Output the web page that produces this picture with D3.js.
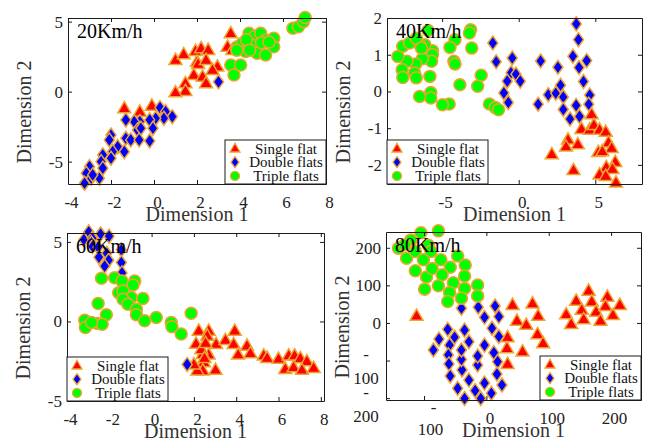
<!DOCTYPE html>
<meta charset="utf-8">
<style>
body { margin: 0; background: #fff; }
svg { display: block; font-family: "Liberation Serif", "Times New Roman", serif; }
.axis .domain, .axis line { stroke: #1a1a1a; stroke-width: 1; }
.axis text { font-family: "Liberation Serif", serif; font-size: 17px; fill: #222; }
.atitle { font-size: 20px; fill: #333; }
.ptitle { font-size: 20px; fill: #000; }
.legend text { font-size: 15px; fill: #111; }
</style>
<svg width="654" height="447"></svg>
<script src="https://d3js.org/d3.v7.min.js"></script>
<script>
// ---- data ----
var seriesNames = ["Single flat", "Double flats", "Triple flats"];
var panelTitles = ["20Km/h", "40Km/h", "60Km/h", "80Km/h"];

var single20 = [[3.57,4.17],[3.42,3.21],[3.65,2.98],[1.0,2.26],[1.38,2.67],[1.93,2.9],[2.19,3.1],[2.52,2.98],[2.0,2.14],[2.05,1.98],[2.42,2.26],[2.95,1.79],[2.72,1.55],[1.85,1.19],[2.26,1.07],[2.42,0.6],[1.46,0.6],[1.46,0.05],[1.0,-0.05],[-1.38,-1.19],[-0.66,-1.43],[-0.1,-1.0]];
var double20 = [[3.0,0.7],[0.28,-1.14],[0.54,-1.43],[0.85,-1.79],[0.46,-1.9],[0.08,-1.9],[-0.2,-2.02],[-0.05,-2.62],[-0.66,-2.14],[-0.92,-2.14],[-1.31,-2.02],[-0.77,-2.74],[-0.61,-2.62],[-1.31,-3.33],[-1.08,-3.45],[-0.69,-3.45],[-0.2,-3.52],[-2.0,-3.1],[-2.08,-3.45],[-1.69,-3.93],[-1.92,-4.29],[-1.38,-4.29],[-2.38,-4.52],[-2.46,-5.0],[-2.0,-4.76],[-2.38,-5.47],[-3.0,-5.36],[-3.15,-5.83],[-2.92,-6.19],[-2.54,-6.19],[-3.23,-6.55],[-2.85,-5.95]];
var triple20 = [[3.88,3.21],[4.11,3.45],[4.42,4.17],[4.68,3.93],[4.96,4.17],[5.19,3.69],[5.57,3.81],[5.57,3.21],[4.88,3.21],[4.57,3.33],[4.26,2.86],[4.8,2.74],[5.19,2.62],[3.57,1.9],[4.03,1.9],[3.72,1.19],[6.46,4.53],[6.72,4.64],[6.95,5.0],[7.03,5.29],[4.3,3.7],[5.0,3.5],[3.85,2.95],[4.45,2.95],[5.35,3.55]];

var single40 = [[4.76,-0.62],[4.1,-1.02],[4.63,-1.04],[4.91,-0.91],[5.28,-1.04],[5.68,-1.1],[5.86,-1.39],[6.07,-1.54],[5.2,-1.65],[5.46,-1.63],[3.22,-1.31],[3.09,-1.5],[3.86,-1.44],[2.16,-1.71],[3.58,-2.14],[6.3,-1.92],[5.72,-2.06],[6.12,-2.11],[5.28,-2.26],[5.68,-2.3],[6.35,-2.48]];
var double40 = [[-1.69,1.32],[-1.47,0.81],[-0.42,0.91],[-0.5,0.51],[-0.18,0.47],[0.1,0.28],[-0.75,0.28],[-0.97,-0.04],[-0.68,-0.3],[1.27,-0.35],[1.43,0.83],[2.56,0.66],[2.73,0.17],[1.93,-0.09],[2.42,-0.05],[2.91,-0.15],[2.91,-0.49],[3.35,-0.75],[3.54,0.96],[3.76,1.84],[3.9,1.41],[3.94,0.65],[4.23,0.27],[4.44,0.84],[3.75,-0.38],[3.97,-0.68],[4.64,-0.1],[4.57,-0.35]];
var triple40 = [[-3.14,1.68],[-3.22,1.59],[-3.07,1.18],[-4.16,1.41],[-4.49,1.2],[-4.23,0.82],[-4.16,0.75],[-2.45,0.44],[-2.68,0.14],[-3.84,0.18],[-4.54,-0.34],[-4.98,-0.36],[-1.91,-0.34],[-1.53,-0.44],[-1.32,-0.5],[-5.74,-0.03],[-5.74,-0.18],[-6.47,-0.14],[-5.8,0.41],[-5.63,1.11],[-5.63,1.0],[-5.69,0.82],[-6.13,1.27],[-6.29,0.89],[-6.47,1.27],[-6.73,0.75],[-6.8,0.5],[-6.69,0.37],[-7.3,0.82],[-7.61,0.59],[-7.57,0.38],[-7.89,0.95],[-7.57,1.23],[-7.13,1.32],[-6.69,1.45],[-6.35,1.18],[-5.92,1.66]];

var single60 = [[2.23,-0.58],[2.7,-0.58],[2.63,-0.9],[3.05,-1.42],[3.49,-1.17],[3.93,-0.58],[3.88,-1.42],[4.51,-1.52],[4.67,-2.0],[4.09,-2.08],[2.7,-2.08],[2.42,-2.04],[2.47,-2.56],[2.42,-3.08],[3.02,-3.04],[2.16,-3.08],[5.3,-2.14],[5.46,-2.29],[6.0,-2.35],[6.48,-2.14],[6.76,-2.14],[7.03,-2.31],[7.34,-2.5],[6.32,-2.98],[6.71,-2.88],[7.11,-3.04],[7.66,-2.92],[2.1,-1.4],[2.35,-1.75],[2.55,-1.35],[2.0,-2.7],[2.5,-2.3]];
var double60 = [[-2.97,5.63],[-2.41,5.5],[-2.01,5.36],[-3.2,5.14],[-2.8,5.23],[-2.84,4.94],[-2.8,4.71],[-2.53,4.67],[-2.49,4.04],[-2.12,4.29],[-2.03,3.85],[-2.22,3.48],[-1.43,4.5],[-1.43,3.7],[-1.4,3.05],[1.68,-2.7]];
var triple60 = [[-2.37,2.71],[-1.75,2.75],[-1.4,2.54],[-0.8,2.54],[-0.88,2.29],[-1.56,1.81],[-1.35,1.92],[-0.96,1.5],[-1.35,1.39],[-1.12,1.08],[-0.41,1.44],[-0.72,0.77],[-0.72,0.42],[-0.33,0.04],[0.22,0.25],[0.93,-0.06],[0.96,-0.33],[1.4,-0.79],[1.87,0.52],[-2.14,0.42],[-2.53,1.13],[-2.56,-0.13],[-2.34,-0.17],[-3.16,0.08],[-3.13,-0.38],[-2.84,-0.06]];

var single80 = [[-112,19],[34,-38],[33,-67],[34,-109],[42,48],[49,6],[64,-5],[58,-76],[74,52],[83,19],[82,-30],[91,-54],[128,23],[136,-3],[144,59],[153,35],[156,10],[164,86],[169,57],[176,30],[183,6],[194,70],[191,45],[203,21],[214,48]];
var double80 = [[-40,39],[-13,42],[-3,15],[14,45],[20,17],[9,-14],[20,-36],[-3,-59],[12,-79],[18,-103],[17,-136],[25,-165],[8,-187],[-9,-201],[-14,-112],[-14,-88],[-3,-160],[-18,-180],[-35,-201],[-46,-174],[-28,-152],[-39,-125],[-40,-97],[-40,-72],[-28,-50],[-35,-19],[-51,-38],[-59,-59],[-61,-85],[-60,-109],[-58,-141],[-62,-17],[-76,-43],[-85,-72]];
var triple80 = [[-105,240],[-77,245],[-121,221],[-141,199],[-128,172],[-114,190],[-93,207],[-89,190],[-101,168],[-73,168],[-58,148],[-46,178],[-34,154],[-114,139],[-96,122],[-87,145],[-71,128],[-53,107],[-35,125],[-99,90],[-77,99],[-59,81],[-62,57],[-35,92],[-40,66],[-14,101],[-14,72],[-131,208]];

var xTicksA = [-4, -2, 0, 2, 4, 6, 8];
var yTicksA = [-5, 0, 5];
var xTicks40 = [-5, 0, 5];
var yTicks40 = [-2, -1, 0, 1, 2];
var xTicks80 = [-100, 0, 100, 200];
var yTicks80 = [-200, -100, 0, 100, 200];

// ---- layout ----
var EDGE = "#eda530";
var fills = ["#ff0000", "#0000ff", "#00ff00"];

var panels = [
  {title: panelTitles[0], l: 68, r: 326, t: 18, b: 184, xd: [-4, 8], yd: [-6.6, 5.26], xt: xTicksA, yt: yTicksA, legend: "right", data: [single20, double20, triple20]},
  {title: panelTitles[1], l: 387, r: 642, t: 18, b: 184, xd: [-8.6, 8.05], yd: [-2.52, 2.0], xt: xTicks40, yt: yTicks40, legend: "left", data: [single40, double40, triple40]},
  {title: panelTitles[2], l: 67, r: 324, t: 233, b: 401, xd: [-4, 8.15], yd: [-5, 5.56], xt: xTicksA, yt: yTicksA, legend: "left", data: [single60, double60, triple60]},
  {title: panelTitles[3], l: 386, r: 641, t: 232, b: 400, xd: [-161, 248], yd: [-205, 242], xt: xTicks80, yt: yTicks80, legend: "right", split: true, data: [single80, double80, triple80]}
];

// custom marker shapes (size = width in px)
var triangle = { draw: function(ctx, s) {
  var h = s * 0.87;
  ctx.moveTo(0, -h * 0.6); ctx.lineTo(s / 2, h * 0.4); ctx.lineTo(-s / 2, h * 0.4); ctx.closePath();
}};
var diamond = { draw: function(ctx, s) {
  var w = s * 0.36, h = s * 0.5;
  ctx.moveTo(0, -h); ctx.lineTo(w, 0); ctx.lineTo(0, h); ctx.lineTo(-w, 0); ctx.closePath();
}};
var disc = { draw: function(ctx, s) {
  ctx.moveTo(s / 2, 0); ctx.arc(0, 0, s / 2, 0, 2 * Math.PI);
}};
var shapes = [triangle, diamond, disc];
var bigSize = [13, 14, 12];
var smallSize = [10, 11, 9];

// plain ASCII hyphen for negatives, like the original
var fmt = function(d) { return String(d); };

var svg = d3.select("svg");
svg.append("rect").attr("width", 654).attr("height", 447).attr("fill", "#fff");

panels.forEach(function(p) {
  var x = d3.scaleLinear().domain(p.xd).range([p.l, p.r]);
  var y = d3.scaleLinear().domain(p.yd).range([p.b, p.t]);
  var g = svg.append("g");

  // markers: single, double, triple
  p.data.forEach(function(pts, i) {
    var sym = d3.symbol().type(shapes[i]).size(bigSize[i]);
    g.append("g").selectAll("path")
      .data(pts)
      .enter().append("path")
      .attr("d", sym)
      .attr("transform", function(d) { return "translate(" + x(d[0]) + "," + y(d[1]) + ")"; })
      .attr("fill", fills[i])
      .attr("stroke", EDGE)
      .attr("stroke-width", 1.5);
  });

  // box with inward ticks on all sides
  var ax = g.append("g").attr("class", "axis");
  var xAx = ax.append("g").attr("transform", "translate(0," + p.b + ")")
    .call(d3.axisBottom(x).tickValues(p.xt).tickFormat(fmt).tickSizeInner(-4).tickSizeOuter(0).tickPadding(12));
  xAx.selectAll("text").attr("dx", 3);
  ax.append("g").attr("transform", "translate(0," + p.t + ")")
    .call(d3.axisTop(x).tickValues(p.xt).tickSizeInner(-4).tickSizeOuter(0).tickFormat(""));
  var yAx = ax.append("g").attr("transform", "translate(" + p.l + ",0)")
    .call(d3.axisLeft(y).tickValues(p.yt).tickFormat(fmt).tickSizeInner(-4).tickSizeOuter(0).tickPadding(5));
  ax.append("g").attr("transform", "translate(" + p.r + ",0)")
    .call(d3.axisRight(y).tickValues(p.yt).tickSizeInner(-4).tickSizeOuter(0).tickFormat(""));
  ax.selectAll(".tick text").attr("fill", "#222");

  // negative labels broken over two lines on the 80 Km/h panel
  if (p.split) {
    xAx.selectAll(".tick text").each(function(v) {
      if (v >= 0) return;
      var t = d3.select(this);
      t.text(null).attr("text-anchor", "middle").attr("dy", null).attr("y", 13);
      t.append("tspan").attr("x", 6).text("-");
      t.append("tspan").attr("x", 6).attr("dy", 22).text(String(-v));
    });
    yAx.selectAll(".tick text").each(function(v) {
      if (v >= 0) return;
      var t = d3.select(this);
      t.text(null).attr("text-anchor", "middle").attr("dy", null).attr("x", -20).attr("y", -1);
      t.append("tspan").attr("x", -20).text("-");
      t.append("tspan").attr("x", -20).attr("dy", 24).text(String(-v));
    });
  }

  // axis titles
  g.append("text").attr("class", "atitle")
    .attr("x", (p.l + p.r) / 2).attr("y", p.b + 37)
    .attr("text-anchor", "middle").text("Dimension 1");
  g.append("text").attr("class", "atitle")
    .attr("transform", "translate(" + (p.l - 37) + "," + ((p.t + p.b) / 2 + 11) + ") rotate(-90)")
    .attr("text-anchor", "middle").text("Dimension 2");

  // panel speed label
  g.append("text").attr("class", "ptitle")
    .attr("x", p.l + 9).attr("y", p.t + 20).text(p.title);

  // legend
  var lw = 101, lh = 44;
  var lx = p.legend === "right" ? p.r - lw : p.l;
  var ly = p.b - lh;
  var lg = g.append("g").attr("class", "legend").attr("transform", "translate(" + lx + "," + ly + ")");
  lg.append("rect").attr("width", lw).attr("height", lh)
    .attr("fill", "#fff").attr("stroke", "#1a1a1a").attr("stroke-width", 1);
  seriesNames.forEach(function(name, i) {
    var ry = 8.5 + i * 13.7;
    lg.append("path")
      .attr("d", d3.symbol().type(shapes[i]).size(smallSize[i]))
      .attr("transform", "translate(10," + ry + ")")
      .attr("fill", fills[i]).attr("stroke", EDGE).attr("stroke-width", 1.3);
    lg.append("text").attr("x", 61).attr("y", ry + 5)
      .attr("text-anchor", "middle").text(name);
  });
});
</script>
